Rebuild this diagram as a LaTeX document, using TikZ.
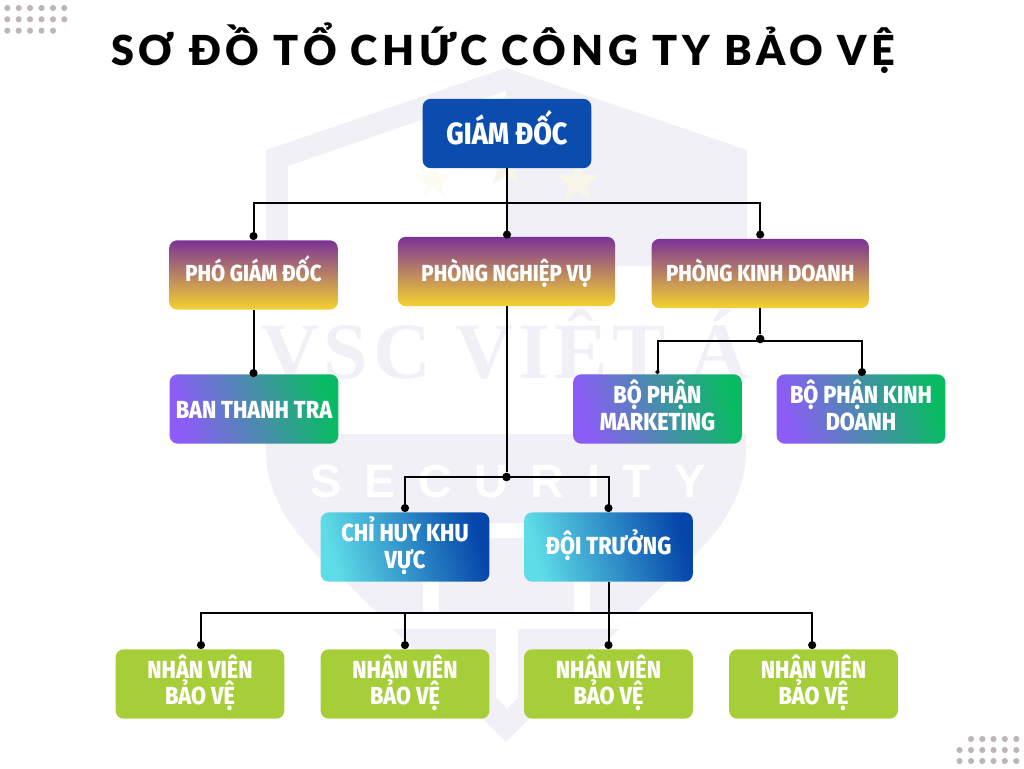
\documentclass[tikz,border=0pt]{standalone}
\usepackage{fontspec}
\usetikzlibrary{arrows.meta,shapes.geometric}
\setmainfont{Liberation Sans}
\newfontfamily\titlefont[LetterSpace=11.4]{Lato Black}
\newfontfamily\cardfont[FakeStretch=0.88]{Fira Sans ExtraBold}
\newfontfamily\markserif[LetterSpace=6]{Liberation Serif Bold}
\newfontfamily\marksans[LetterSpace=48.5]{Liberation Sans Bold}
\definecolor{wm}{HTML}{F1F0F6}
\definecolor{wmstar}{HTML}{F8F6E8}
\definecolor{wmstarpale}{HTML}{FDFCF3}
\definecolor{dotgrey}{HTML}{BDB5B6}
\definecolor{royal}{HTML}{0B4DAE}
\definecolor{grape}{HTML}{7B3397}
\definecolor{sun}{HTML}{F5D22F}
\definecolor{violet}{HTML}{8B5CF6}
\definecolor{emerald}{HTML}{08BB62}
\definecolor{aqua}{HTML}{5EDDE8}
\definecolor{navy}{HTML}{0546AA}
\definecolor{lime}{HTML}{A6CE39}
\tikzset{
  orgbox/.style={rounded corners=6pt,minimum height=52pt,minimum width=126.5pt,inner sep=0pt,
    align=center,text=white,font=\cardfont\fontsize{18.5}{20}\selectfont},
  widebox/.style={orgbox,minimum width=163pt},
  oneline/.style={text height=#1pt,text depth=0pt},
  sunset/.style={top color=grape,bottom color=sun},
  meadow/.style={bottom color=violet,top color=emerald,shading angle=-75},
  ocean/.style={bottom color=aqua,top color=navy,shading angle=-75},
  grass/.style={fill=lime,text depth=6.5pt},
  conn/.style={line width=1.5pt,black},
  tipped/.style={conn,-{Circle[length=6pt,width=6pt]}},
  tinytip/.style={conn,-{Circle[length=3pt,width=3pt]}},
  junction/.style={circle,fill=black,inner sep=0pt,minimum size=6.5pt},
  speck/.style={circle,fill=dotgrey,inner sep=0pt,minimum size=4.6pt},
  wmstarshape/.style={star,star points=5,star point ratio=2.4,fill=wmstar,inner sep=0pt},
}
\begin{document}
\begin{tikzpicture}[x=0.75pt,y=-0.75pt]
\useasboundingbox (0,0) rectangle (1024,768);
% watermark
\fill[wm] (266,150) -- (506,68) -- (747,150) -- (747,266) -- (266,266) -- cycle;
\fill[white] (288,166) -- (506,91) -- (506,266) -- (288,266) -- cycle;
\node[wmstarshape,fill=wmstarpale,minimum size=29pt] (s1) at (434,181) {};
\node[wmstarshape,minimum size=33pt] (s2) at (506,166) {};
\node[wmstarshape,minimum size=33pt] (s3) at (578,182) {};
\node[wmstarshape,minimum size=33pt] (s4) at (506,115) {};
\node[anchor=base,text=wm,font=\markserif\fontsize{60}{60}\selectfont] (wmvsc) at (505,378) {VSC VIỆT Á};
\fill[wm] (266,434) -- (746,434) -- (746,450) .. controls (746,500) and (715,540) .. (668,580) -- (506,742) -- (344,580) .. controls (297,540) and (266,500) .. (266,450) -- cycle;
\fill[white] (423,523) rectangle (590,538);
\fill[white] (423,523) rectangle (439,612);
\fill[white] (574,523) rectangle (590,612);
\fill[white] (300,612) rectangle (712,629);
\fill[white] (496,612) -- (518,612) -- (518,698) -- (507,708) -- (496,698) -- cycle;
\node[anchor=base,text=white,font=\marksans\fontsize{35}{35}\selectfont] (wmsec) at (508,497) {SECURITY};
% dots
\foreach \x in {7.3,18.7,30,41.5,53,64.3} {\node[speck] at (\x,8) {}; \node[speck] at (\x,19.3) {};}
\foreach \x in {7.3,18.7,30,41.5,53} {\node[speck] at (\x,30.7) {};}
\foreach \x in {971,982.3,993.5,1004.8,1016.3} {\node[speck] at (\x,739) {};}
\foreach \x in {959.5,971,982.3,993.5,1004.8,1016.3} {\node[speck] at (\x,750) {}; \node[speck] at (\x,761) {};}
% title
\node[anchor=base,text=black,font=\titlefont\fontsize{31}{31}\selectfont] (title) at (503,65) {SƠ ĐỒ TỔ CHỨC CÔNG TY BẢO VỆ};
% boxes
\node[orgbox,fill=royal,oneline=17.2,font=\cardfont\fontsize{23}{24}\selectfont] (gd) at (507,133.5) {GIÁM ĐỐC};
\node[orgbox,sunset,oneline=9,font=\cardfont\fontsize{17.4}{20}\selectfont] (pgd) at (253.5,275) {PHÓ GIÁM ĐỐC};
\node[widebox,sunset,oneline=15,font=\cardfont\fontsize{17.4}{20}\selectfont] (pnv) at (506.5,271.5) {PHÒNG NGHIỆP VỤ};
\node[widebox,sunset,oneline=12,font=\cardfont\fontsize{17.4}{20}\selectfont] (pkd) at (760.2,273.5) {PHÒNG KINH DOANH};
\node[orgbox,meadow,oneline=13.5] (btt) at (254,409) {BAN THANH TRA};
\node[orgbox,meadow,text depth=6pt] (mkt) at (657.5,409) {BỘ PHẬN\\MARKETING};
\node[orgbox,meadow,text depth=6pt] (bkd) at (861,409) {BỘ PHẬN KINH\\DOANH};
\node[orgbox,ocean,text depth=6.5pt] (chk) at (405,547) {CHỈ HUY KHU\\VỰC};
\node[orgbox,ocean,oneline=11] (dt) at (608.5,547) {ĐỘI TRƯỞNG};
\node[orgbox,grass] (nv1) at (200,684) {NHÂN VIÊN\\BẢO VỆ};
\node[orgbox,grass] (nv2) at (405,684) {NHÂN VIÊN\\BẢO VỆ};
\node[orgbox,grass] (nv3) at (608.5,684) {NHÂN VIÊN\\BẢO VỆ};
\node[orgbox,grass] (nv4) at (813.5,684) {NHÂN VIÊN\\BẢO VỆ};
% connectors
\coordinate (bus1) at (gd.south |- 0,203);
\draw[tipped,shorten >=-1.5pt] (gd.south) -- (gd.south |- pnv.north);
\draw[tipped] (bus1) -| (pgd.north);
\draw[tipped] (bus1) -| (pkd.north);
\draw[tipped,shorten >=-2.25pt] (pgd.south) -- (pgd.south |- btt.north);
\node[junction] (j1) at (pnv.south |- 0,477) {};
\draw[conn] (pnv.south) -- (j1);
\draw[tipped] (j1.center) -| (chk.north);
\draw[tipped] (j1.center) -| (dt.north);
\node[junction] (j2) at (pkd.south |- 0,339) {};
\draw[conn] (pkd.south) -- (j2);
\coordinate (bus3) at (pkd.south |- 0,341);
\draw[tinytip] (bus3) -| (mkt.north);
\draw[tipped,shorten >=-1.5pt] (bus3) -| ([xshift=.75pt]bkd.north);
\coordinate (bus2) at (dt.south |- 0,613);
\draw[tipped] (dt.south) -- (nv3.north);
\draw[tipped] (bus2) -| ([xshift=.75pt]nv1.north);
\draw[tipped] (bus2) -| (nv2.north);
\draw[tipped] (bus2) -| ([xshift=-1pt]nv4.north);
\end{tikzpicture}
\end{document}
